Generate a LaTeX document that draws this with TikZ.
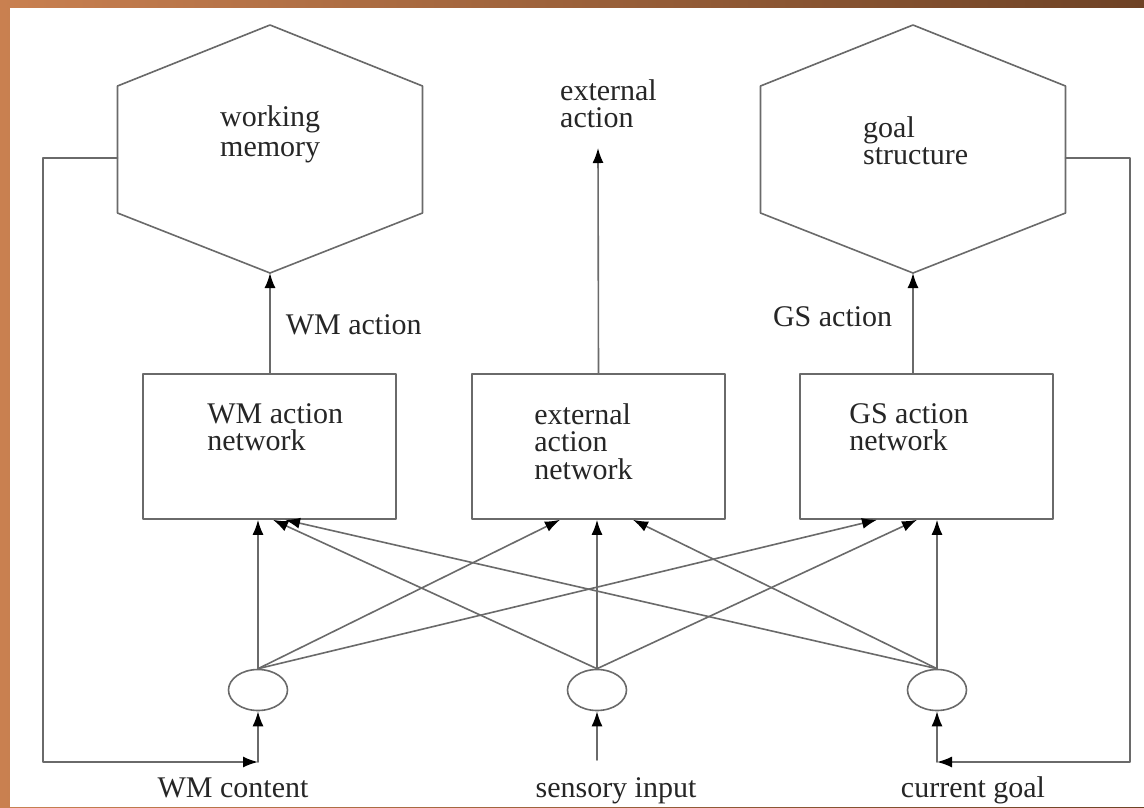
\documentclass[tikz,border=0pt]{standalone}
\usepackage{fontspec}
\setmainfont{Liberation Serif}
\usetikzlibrary{arrows.meta,positioning,shapes.geometric}
\definecolor{linegray}{HTML}{6A6A6A}
\definecolor{frameorange}{HTML}{C98050}
\definecolor{framebrown}{HTML}{6E4225}

% hexagon store: name, centre x
\newcommand{\hexstore}[2]{%
  \draw[hexline] ({#2-152.5},86) -- (#2,25) -- ({#2+152.5},86) -- ({#2+152.5},213) -- (#2,273) -- ({#2-152.5},213) -- cycle;
  \coordinate (#1-s) at (#2,273);
  \coordinate (#1-w) at ({#2-152.5},158);
  \coordinate (#1-e) at ({#2+152.5},158);
}

\begin{document}
\begin{tikzpicture}[x=1pt, y=-1pt, line cap=round, line join=round,
  font=\fontsize{30}{27.5}\selectfont,
  hexline/.style={draw=linegray, line width=1.6pt},
  netbox/.style={draw=linegray, line width=1.6pt, minimum width=253pt, minimum height=145pt, inner sep=0pt},
  unit/.style={draw=linegray, line width=1.6pt, ellipse, minimum width=59pt, minimum height=41pt, inner sep=0pt},
  txt/.style={align=left, inner sep=0pt, text=black!85},
  wire/.style={draw=linegray, line width=1.6pt, -{Latex[length=15pt,width=11pt,color=black]}}]
	\useasboundingbox (0,0) rectangle (1144,807);
	\shade[left color=frameorange, right color=framebrown] (0,0) rectangle (1144,807);
	\fill[white] (10,8) rectangle (1144,807);
	% stores
	\hexstore{wm}{270}
	\hexstore{gs}{913}
	\node[txt, anchor=north west, font=\fontsize{30}{30}\selectfont] (wmtext) at (220,105) {working\\memory};
	\node[txt, anchor=north west] (gstext) at (863,116) {goal\\structure};
	% networks
	\node[netbox] (wmnet) at (269.5,446.5) {};
	\node[netbox] (exnet) at (598.5,446.5) {};
	\node[netbox] (gsnet) at (926.5,446.5) {};
	\node[txt, below right=30pt and 65pt of wmnet.north west, anchor=north west] (wmnettext) {WM action\\network};
	\node[txt, below right=30pt and 63pt of exnet.north west, anchor=north west] (exnettext) {external\\action\\network};
	\node[txt, below right=30pt and 50pt of gsnet.north west, anchor=north west] (gsnettext) {GS action\\network};
	% input units
	\node[unit] (wmin) at (258,690) {};
	\node[unit] (senin) at (597,690) {};
	\node[unit] (goalin) at (937,690) {};
	\node[txt, anchor=base] (wmlab) at (233,797) {WM content};
	\node[txt, anchor=base] (senlab) at (616,797) {sensory input};
	\node[txt, anchor=base] (goallab) at (973,797) {current goal};
	% actions
	\coordinate (exout) at (598,148);
	\node[txt, anchor=north west] (exlab) at (560,79) {external\\action};
	\draw[wire] ([xshift=0.5pt]wmnet.north) -- (wm-s) node[txt, pos=0.48, right=15pt] (wmact) {WM action};
	\draw[wire] (exnet.north) -- (exout);
	\draw[wire] ([xshift=-13.5pt]gsnet.north) -- (gs-s) node[txt, pos=0.56, left=20pt] (gsact) {GS action};
	% feedback loops
	\coordinate (wmfeed) at (258,762);
	\coordinate (senfeed) at (597,760);
	\coordinate (goalfeed) at (937,762);
	\draw[wire] (wm-w) -- (43,158) -- (43,762) -- (wmfeed);
	\draw[wire] (gs-e) -- (1130,158) -- (1130,762) -- (goalfeed);
	\draw[wire] (wmfeed) -- (wmin.south);
	\draw[wire] (senfeed) -- (senin.south);
	\draw[wire] (goalfeed) -- (goalin.south);
	% unit -> network links
	\draw[wire] (wmin.north) -- ([xshift=-11.5pt]wmnet.south);
	\draw[wire] (wmin.north) -- ([xshift=-38.5pt]exnet.south);
	\draw[wire] (wmin.north) -- ([xshift=-49.5pt]gsnet.south);
	\draw[wire] (senin.north) -- ([xshift=3.5pt]wmnet.south);
	\draw[wire] (senin.north) -- ([xshift=-1.5pt]exnet.south);
	\draw[wire] (senin.north) -- ([xshift=-9.5pt]gsnet.south);
	\draw[wire] (goalin.north) -- ([xshift=15.5pt]wmnet.south);
	\draw[wire] (goalin.north) -- ([xshift=34.5pt]exnet.south);
	\draw[wire] (goalin.north) -- ([xshift=10.5pt]gsnet.south);
\end{tikzpicture}
\end{document}
